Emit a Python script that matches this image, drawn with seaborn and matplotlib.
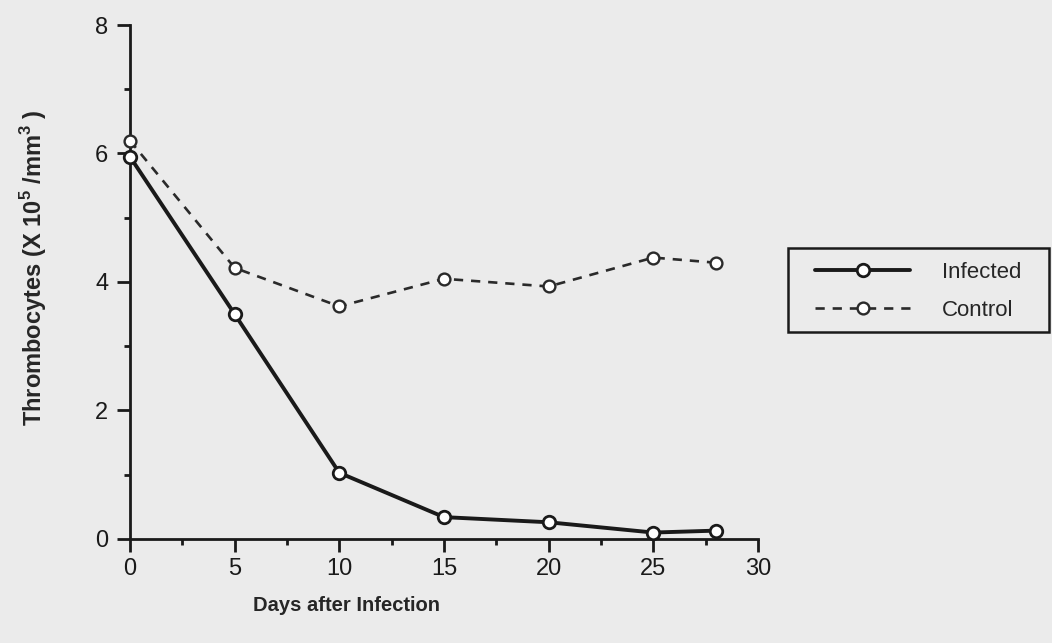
import matplotlib
matplotlib.use("Agg")
import matplotlib.pyplot as plt
from matplotlib.ticker import MultipleLocator
from matplotlib.patches import Rectangle
import seaborn as sns
import pandas as pd

# ---- data ----
days = [0, 5, 10, 15, 20, 25, 28]
infected = [5.95, 3.5, 1.03, 0.34, 0.26, 0.1, 0.13]
control = [6.2, 4.22, 3.62, 4.05, 3.93, 4.38, 4.3]
series_names = ["Infected", "Control"]
x_ticks = [0, 5, 10, 15, 20, 25, 30]
y_ticks = [0, 2, 4, 6, 8]

sns.set_style("ticks")
plt.rcParams["font.family"] = ["Liberation Sans", "DejaVu Sans"]

bg = "#ebebeb"
ink = "#1a1a1a"
fig = plt.figure(figsize=(10.52, 6.43), dpi=100, facecolor=bg)
ax = fig.add_axes([0.1136, 0.1468, 0.7305 - 0.1136, 0.9711 - 0.1468])
ax.set_facecolor(bg)

df = pd.DataFrame({
    "day": days * 2,
    "value": infected + control,
    "group": [series_names[0]] * len(days) + [series_names[1]] * len(days),
})

sns.lineplot(data=df[df.group == "Infected"], x="day", y="value", ax=ax,
             color=ink, lw=2.8, marker="o", markersize=9,
             markerfacecolor="white", markeredgecolor=ink,
             markeredgewidth=2.0, label="Infected", zorder=3)
sns.lineplot(data=df[df.group == "Control"], x="day", y="value", ax=ax,
             color="#2a2a2a", lw=1.9, linestyle=(0, (3.5, 3)), marker="o",
             markersize=8.5, markerfacecolor="white", markeredgecolor="#2a2a2a",
             markeredgewidth=1.7, label="Control", zorder=3)

ax.set_xlim(-0.5, 30.5)
ax.set_ylim(-0.15, 8.1)
sns.despine(ax=ax)
ax.spines["left"].set_position(("data", 0))
ax.spines["bottom"].set_position(("data", 0))
ax.spines["left"].set_bounds(0, 8)
ax.spines["bottom"].set_bounds(0, 30)
for s in ["left", "bottom"]:
    ax.spines[s].set_linewidth(2.0)
    ax.spines[s].set_color(ink)

ax.set_xticks(x_ticks)
ax.set_yticks(y_ticks)
ax.xaxis.set_minor_locator(MultipleLocator(2.5))
ax.yaxis.set_minor_locator(MultipleLocator(1))
ax.tick_params(axis="both", which="major", length=9.5, width=2.0,
               colors=ink, labelsize=17, direction="out")
ax.tick_params(axis="both", which="minor", length=4.5, width=2.0,
               colors=ink, direction="out")
ax.tick_params(axis="x", which="major", pad=4)
ax.tick_params(axis="y", which="major", pad=6)

ax.set_xlabel("Days after Infection", fontsize=14.5, fontweight="bold")
ax.set_ylabel("Thrombocytes (X 10$^\\mathregular{5}$ /mm$^\\mathregular{3}$ )",
              fontsize=17, fontweight="bold")
ax.yaxis.set_label_coords(-0.108, 0.529)
ax.xaxis.set_label_coords(0.3505, -0.09)

leg = ax.legend(loc="upper left", bbox_to_anchor=(815 / 1052, 1 - 262 / 643),
                bbox_transform=fig.transFigure, frameon=False,
                fontsize=16, handlelength=4.28, handletextpad=1.44,
                borderpad=0, labelspacing=0.75, borderaxespad=0)

# legend frame box
fig.patches.append(Rectangle((788 / 1052, 1 - 332 / 643),
                             (1049 - 788) / 1052, (332 - 248) / 643,
                             transform=fig.transFigure, fill=False,
                             edgecolor=ink, linewidth=1.8))

fig.savefig("out.png", dpi=100, facecolor=bg)
